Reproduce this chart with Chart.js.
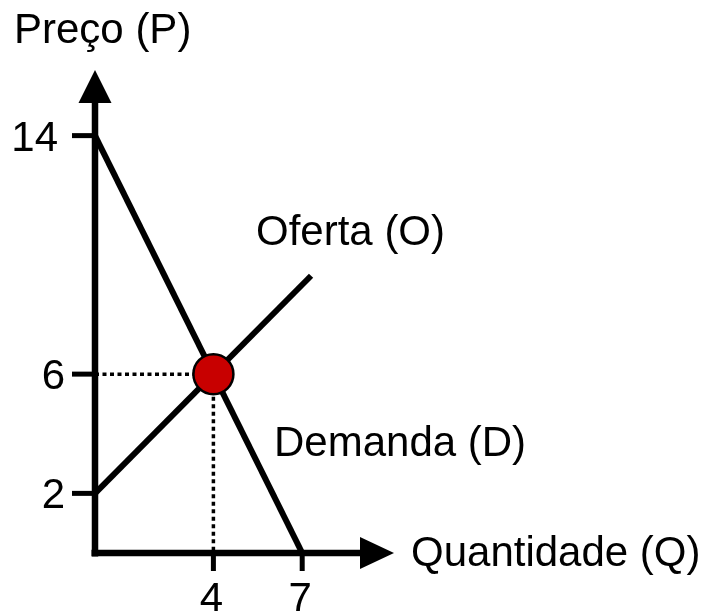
<!DOCTYPE html>
<html>
<head>
<meta charset="utf-8">
<script src="https://cdn.jsdelivr.net/npm/chart.js@4/dist/chart.umd.min.js"></script>
<style>
  html, body { margin: 0; padding: 0; background: #ffffff; }
  #wrap { width: 705px; height: 611px; }
</style>
</head>
<body>
<div id="wrap"><canvas id="c" width="705" height="611"></canvas></div>
<script>
// ---- data ----
const demandQ = [0, 7];
const demandP = [14, 0];
const supplyQ = [0, 7.3];
const supplyP = [2, 9.3];
const equilibriumQ = [4];
const equilibriumP = [6];
const yTickValues = [2, 6, 14];
const xTickValues = [4, 7];
const yAxisTitle = 'Preço (P)';
const xAxisTitle = 'Quantidade (Q)';
const supplyLabel = 'Oferta (O)';
const demandLabel = 'Demanda (D)';

const toPoints = (xs, ys) => xs.map((x, i) => ({ x: x, y: ys[i] }));

const FONT = '42px "Liberation Sans", Arial, sans-serif';

const axesPlugin = {
  id: 'econAxes',
  beforeDatasetsDraw(chart) {
    const ctx = chart.ctx;
    const xs = chart.scales.x, ys = chart.scales.y;
    const ox = xs.getPixelForValue(0);
    const oy = ys.getPixelForValue(0);
    ctx.save();
    ctx.fillStyle = '#000';
    ctx.strokeStyle = '#000';
    // y axis line
    ctx.lineWidth = 6.5;
    ctx.lineCap = 'butt';
    ctx.beginPath();
    ctx.moveTo(ox, oy + 3.5);
    ctx.lineTo(ox, 103);
    ctx.stroke();
    // y arrow
    ctx.beginPath();
    ctx.moveTo(ox, 70);
    ctx.lineTo(ox - 16.5, 103);
    ctx.lineTo(ox + 16.5, 103);
    ctx.closePath();
    ctx.fill();
    // x axis line
    ctx.beginPath();
    ctx.moveTo(ox - 3.5, oy);
    ctx.lineTo(361, oy);
    ctx.stroke();
    // x arrow
    ctx.beginPath();
    ctx.moveTo(394, oy);
    ctx.lineTo(360, oy - 16);
    ctx.lineTo(360, oy + 16);
    ctx.closePath();
    ctx.fill();
    // y ticks
    ctx.lineWidth = 5;
    ctx.font = FONT;
    ctx.textAlign = 'right';
    ctx.textBaseline = 'alphabetic';
    yTickValues.forEach(v => {
      const py = ys.getPixelForValue(v);
      ctx.beginPath();
      ctx.moveTo(ox - 23, py);
      ctx.lineTo(ox, py);
      ctx.stroke();
      ctx.fillText(String(v), v >= 10 ? 58 : 65, py + 15);
    });
    // x ticks
    ctx.textAlign = 'center';
    xTickValues.forEach(v => {
      const px = xs.getPixelForValue(v);
      ctx.beginPath();
      ctx.moveTo(px, oy);
      ctx.lineTo(px, oy + 18);
      ctx.stroke();
      ctx.fillText(String(v), px - 2, 612);
    });
    // titles and series labels
    ctx.textAlign = 'left';
    ctx.fillText(yAxisTitle, 14, 43);
    ctx.fillText(xAxisTitle, 411, 566);
    ctx.fillText(supplyLabel, 256, 245);
    ctx.fillText(demandLabel, 274, 456);
    ctx.restore();
  }
};

new Chart(document.getElementById('c'), {
  type: 'scatter',
  data: {
    datasets: [
      {
        label: 'Equilíbrio',
        data: toPoints(equilibriumQ, equilibriumP),
        pointRadius: 20,
        pointBackgroundColor: '#c80000',
        pointBorderColor: '#000000',
        pointBorderWidth: 2.5,
        showLine: false,
        clip: false,
        order: 0
      },
      {
        label: 'guide-h',
        data: [{ x: 0, y: equilibriumP[0] }, { x: equilibriumQ[0], y: equilibriumP[0] }],
        showLine: true,
        borderColor: '#000',
        borderWidth: 3.5,
        borderDash: [4, 3.5],
        pointRadius: 0,
        clip: false,
        order: 3
      },
      {
        label: 'guide-v',
        data: [{ x: equilibriumQ[0], y: equilibriumP[0] }, { x: equilibriumQ[0], y: 0 }],
        showLine: true,
        borderColor: '#000',
        borderWidth: 3.5,
        borderDash: [4, 3.5],
        pointRadius: 0,
        clip: false,
        order: 3
      },
      {
        label: demandLabel,
        data: toPoints(demandQ, demandP),
        showLine: true,
        borderColor: '#000',
        borderWidth: 6,
        pointRadius: 0,
        clip: false,
        order: 1
      },
      {
        label: supplyLabel,
        data: toPoints(supplyQ, supplyP),
        showLine: true,
        borderColor: '#000',
        borderWidth: 6,
        pointRadius: 0,
        clip: false,
        order: 1
      }
    ]
  },
  options: {
    responsive: false,
    animation: false,
    events: [],
    layout: { padding: { left: 95, right: 314, top: 76, bottom: 58 } },
    plugins: { legend: { display: false }, tooltip: { enabled: false } },
    scales: {
      x: { type: 'linear', min: 0, max: 10, display: false },
      y: { type: 'linear', min: 0, max: 16, display: false }
    }
  },
  plugins: [axesPlugin]
});
</script>
</body>
</html>
